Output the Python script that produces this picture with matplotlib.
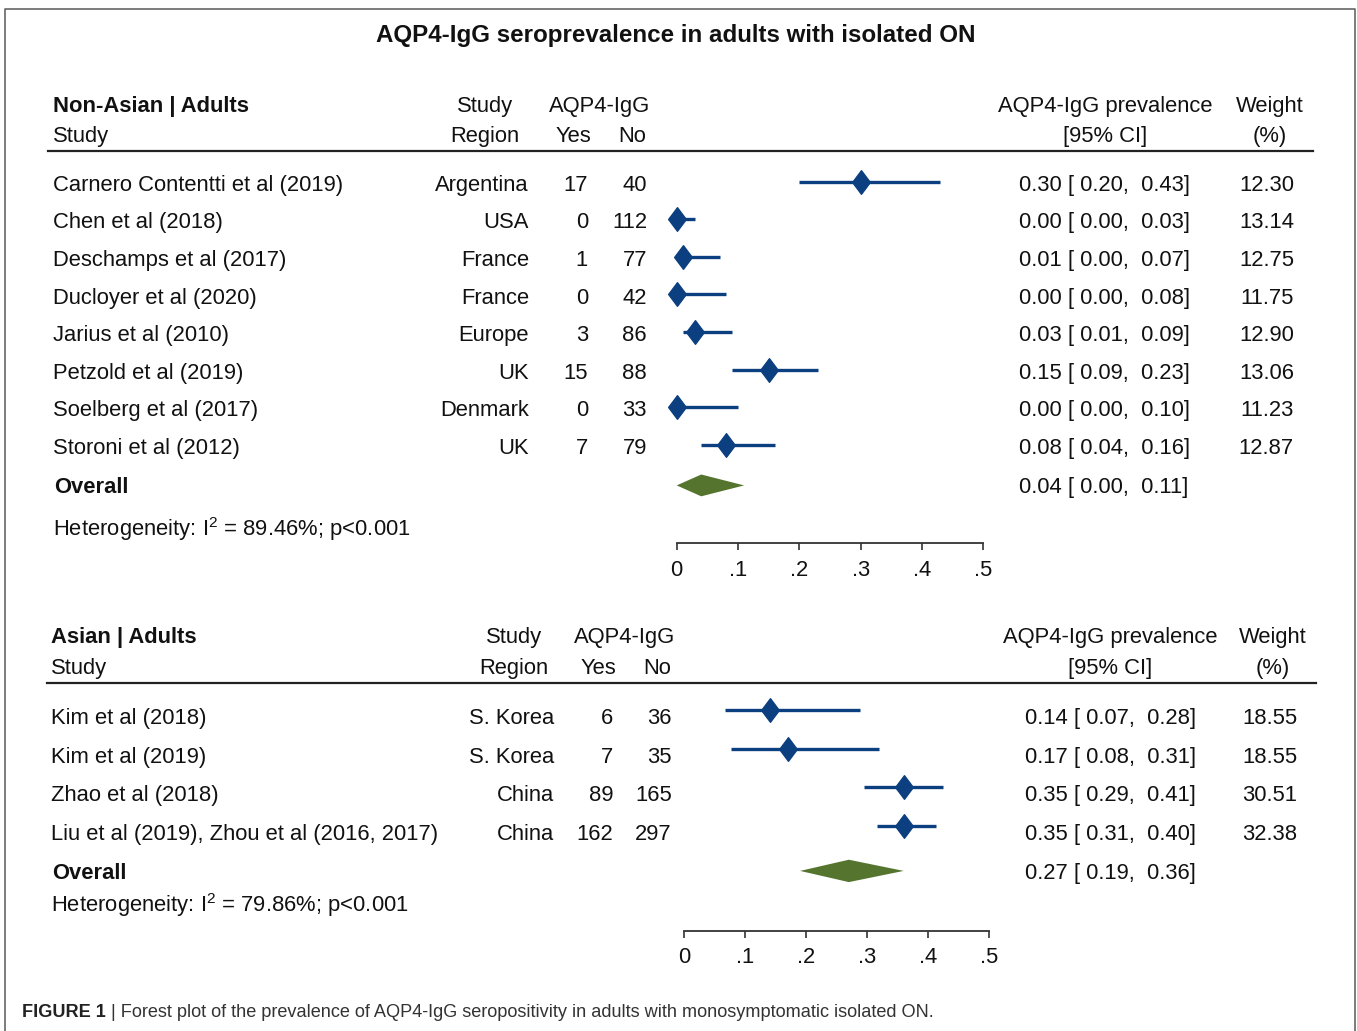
import numpy as np
import matplotlib
matplotlib.use("Agg")
import matplotlib.pyplot as plt
from matplotlib.lines import Line2D
from matplotlib.path import Path
from matplotlib.transforms import blended_transform_factory

plt.rcParams["font.family"] = ["Liberation Sans", "DejaVu Sans"]
plt.rcParams["mathtext.fontset"] = "custom"
plt.rcParams["mathtext.rm"] = "Liberation Sans"
plt.rcParams["mathtext.it"] = "Liberation Sans:italic"

# ---------------------------------------------------------------------------
# Data - Non-Asian adults
studies_na = ["Carnero Contentti et al (2019)", "Chen et al (2018)",
              "Deschamps et al (2017)", "Ducloyer et al (2020)",
              "Jarius et al (2010)", "Petzold et al (2019)",
              "Soelberg et al (2017)", "Storoni et al (2012)"]
region_na = ["Argentina", "USA", "France", "France", "Europe", "UK", "Denmark", "UK"]
yes_na = [17, 0, 1, 0, 3, 15, 0, 7]
no_na = [40, 112, 77, 42, 86, 88, 33, 79]
est_na = [0.30, 0.00, 0.01, 0.00, 0.03, 0.15, 0.00, 0.08]
lo_na = [0.20, 0.00, 0.00, 0.00, 0.01, 0.09, 0.00, 0.04]
hi_na = [0.43, 0.03, 0.07, 0.08, 0.09, 0.23, 0.10, 0.16]
ci_text_na = ["0.30 [ 0.20,  0.43]", "0.00 [ 0.00,  0.03]", "0.01 [ 0.00,  0.07]",
              "0.00 [ 0.00,  0.08]", "0.03 [ 0.01,  0.09]", "0.15 [ 0.09,  0.23]",
              "0.00 [ 0.00,  0.10]", "0.08 [ 0.04,  0.16]"]
weight_na = [12.30, 13.14, 12.75, 11.75, 12.90, 13.06, 11.23, 12.87]
overall_na = [0.00, 0.04, 0.11]          # lo, est, hi
overall_text_na = "0.04 [ 0.00,  0.11]"
i2_na = 89.46

# Data - Asian adults
studies_as = ["Kim et al (2018)", "Kim et al (2019)", "Zhao et al (2018)",
              "Liu et al (2019), Zhou et al (2016, 2017)"]
region_as = ["S. Korea", "S. Korea", "China", "China"]
yes_as = [6, 7, 89, 162]
no_as = [36, 35, 165, 297]
est_as = [0.14, 0.17, 0.36, 0.36]
lo_as = [0.066, 0.076, 0.295, 0.316]
hi_as = [0.289, 0.319, 0.424, 0.413]
ci_text_as = ["0.14 [ 0.07,  0.28]", "0.17 [ 0.08,  0.31]",
              "0.35 [ 0.29,  0.41]", "0.35 [ 0.31,  0.40]"]
weight_as = [18.55, 18.55, 30.51, 32.38]
overall_as = [0.19, 0.27, 0.36]
overall_text_as = "0.27 [ 0.19,  0.36]"
i2_as = 79.86

xticks = [0, 0.1, 0.2, 0.3, 0.4, 0.5]
xtick_labels = ["0", ".1", ".2", ".3", ".4", ".5"]

# ---------------------------------------------------------------------------
W, H = 1357, 1031
fig = plt.figure(figsize=(W / 100, H / 100), dpi=100)
fig.patch.set_facecolor("white")

BLUE = "#0b3f80"
GREEN = "#55752f"
TXT = "#111111"
FS = 15.8
DROP = 2.5  # px, text sits a little lower than its bbox centre


def fx(x):
    return x / W


def fy(y):
    return 1 - y / H


def ptext(x, y, s, **kw):
    kw.setdefault("fontsize", FS)
    kw.setdefault("color", TXT)
    kw.setdefault("va", "center")
    return fig.text(fx(x), fy(y + DROP), s, **kw)


# tall diamond marker
diamond = Path([(0, 1), (0.75, 0), (0, -1), (-0.75, 0), (0, 1)],
               [Path.MOVETO, Path.LINETO, Path.LINETO, Path.LINETO, Path.CLOSEPOLY])


def panel(cfg):
    # axes placed so that 0 -> x0 px and 0.5 -> x5 px
    scale = (cfg["x5"] - cfg["x0"]) / 0.5
    left = cfg["x0"] - 0.05 * scale
    ax = fig.add_axes([fx(left), fy(cfg["ybot"]), 0.6 * scale / W,
                       (cfg["ybot"] - cfg["ytop"]) / H])
    ax.set_facecolor("none")
    ax.set_xlim(-0.05, 0.55)
    ax.set_ylim(cfg["ylim"])
    for s in ["top", "left", "right"]:
        ax.spines[s].set_visible(False)
    ax.spines["bottom"].set_bounds(0, 0.5)
    ax.spines["bottom"].set_color("#333333")
    ax.spines["bottom"].set_linewidth(1.3)
    ax.set_yticks([])
    ax.set_xticks(xticks)
    ax.set_xticklabels(xtick_labels)
    ax.tick_params(axis="x", direction="out", length=5, width=1.2, color="#333333",
                   pad=7, labelsize=FS, labelcolor=TXT)

    n = len(cfg["studies"])
    rows = np.arange(n)
    ax.hlines(rows, cfg["lo"], cfg["hi"], color=BLUE, lw=2.4, clip_on=False)
    ax.plot(cfg["est"], rows, ls="none", marker=diamond, ms=17, color=BLUE,
            mec=BLUE, clip_on=False)
    lo, est, hi = cfg["overall"]
    yo = cfg["overall_row"]
    h = 0.29
    ax.fill([lo, est, hi, est], [yo, yo - h, yo, yo + h], color=GREEN, lw=0,
            clip_on=False)

    tr = blended_transform_factory(fig.transFigure, ax.transData)
    c = cfg["cols"]
    rowpx = cfg["row_px"]
    sh = cfg["text_shift"] + DROP / rowpx
    for i in range(n):
        y = i + sh
        kw = dict(transform=tr, fontsize=FS, color=TXT, va="center")
        ax.text(fx(c["study"]), y, cfg["studies"][i], ha="left", **kw)
        ax.text(fx(c["region"]), y, cfg["region"][i], ha="right", **kw)
        ax.text(fx(c["yes"]), y, str(cfg["yes"][i]), ha="right", **kw)
        ax.text(fx(c["no"]), y, str(cfg["no"][i]), ha="right", **kw)
        ax.text(fx(c["ci"]), y, cfg["ci_text"][i], ha="left", **kw)
        ax.text(fx(c["weight"]), y, "%.2f" % cfg["weight"][i], ha="right", **kw)
    yt = yo + DROP / rowpx
    ax.text(fx(c["study"] + 1), yt, "Overall", ha="left", va="center", transform=tr,
            fontsize=FS, color=TXT, fontweight="bold")
    ax.text(fx(c["ci"]), yt, cfg["overall_text"], ha="left", va="center",
            transform=tr, fontsize=FS, color=TXT)
    ax.text(fx(c["study"]), cfg["het_row"] + DROP / rowpx,
            r"Heterogeneity: $\mathrm{I}^{2}$ = %.2f%%; p<0.001" % cfg["i2"],
            ha="left", va="center", transform=tr, fontsize=FS, color=TXT)

    # header
    hy1, hy2 = cfg["head_y"]
    ptext(c["study"], hy1, cfg["name"], ha="left", fontweight="bold")
    ptext(c["study"], hy2, "Study", ha="left")
    ptext(c["region_h"], hy1, "Study", ha="center")
    ptext(c["region_h"], hy2, "Region", ha="center")
    ptext(c["igg_h"], hy1, "AQP4-IgG", ha="center")
    ptext(c["yes_h"], hy2, "Yes", ha="center")
    ptext(c["no_h"], hy2, "No", ha="center")
    ptext(c["ci_h"], hy1, "AQP4-IgG prevalence", ha="center")
    ptext(c["ci_h"], hy2, "[95% CI]", ha="center")
    ptext(c["weight_h"], hy1, "Weight", ha="center")
    ptext(c["weight_h"], hy2, "(%)", ha="center")
    rx0, rx1, ry = cfg["rule"]
    fig.add_artist(Line2D([fx(rx0), fx(rx1)], [fy(ry), fy(ry)], color="#222222",
                          lw=1.6))
    return ax


cfg_na = dict(
    name="Non-Asian | Adults", studies=studies_na, region=region_na, yes=yes_na,
    no=no_na, est=est_na, lo=lo_na, hi=hi_na, ci_text=ci_text_na, weight=weight_na,
    overall=overall_na, overall_text=overall_text_na, i2=i2_na,
    x0=676.7, x5=983.3, ytop=160, ybot=543.3, ylim=(9.62, -0.577), row_px=37.6,
    overall_row=8.08, het_row=9.18, text_shift=0.03,
    head_y=(104, 134), rule=(48, 1313, 151),
    cols=dict(study=53, region=529, yes=588, no=647, ci=1019, weight=1294,
              region_h=485, igg_h=600, yes_h=573, no_h=632, ci_h=1105, weight_h=1270),
)
cfg_as = dict(
    name="Asian | Adults", studies=studies_as, region=region_as, yes=yes_as,
    no=no_as, est=est_as, lo=lo_as, hi=hi_as, ci_text=ci_text_as, weight=weight_as,
    overall=overall_as, overall_text=overall_text_as, i2=i2_as,
    x0=684.3, x5=989.0, ytop=690, ybot=930.7, ylim=(5.72, -0.52), row_px=38.6,
    overall_row=4.17, het_row=5.0, text_shift=0.155,
    head_y=(635, 666), rule=(47, 1316, 683),
    cols=dict(study=51, region=554, yes=613, no=672, ci=1025, weight=1297,
              region_h=514, igg_h=625, yes_h=598, no_h=657, ci_h=1110, weight_h=1273),
)

panel(cfg_na)
panel(cfg_as)

# title
ptext(676, 33, "AQP4-IgG seroprevalence in adults with isolated ON", ha="center",
      fontweight="bold", fontsize=17.4)

# outer frame (open at the bottom)
frame = dict(color="#666666", lw=1.2)
fig.add_artist(Line2D([fx(5), fx(5), fx(1354.5), fx(1354.5)],
                      [0, fy(9), fy(9), 0], **frame))

# caption
t1 = ptext(22, 1010, "FIGURE 1", ha="left", fontweight="bold", fontsize=13.1,
           color="#222222")
fig.add_artist(plt.Annotation(
    " | Forest plot of the prevalence of AQP4-IgG seropositivity in adults with "
    "monosymptomatic isolated ON.", xy=(1, 0.5), xycoords=t1, va="center",
    ha="left", fontsize=13.1, color="#333333"))

fig.savefig("out.png", dpi=100, facecolor="white")
